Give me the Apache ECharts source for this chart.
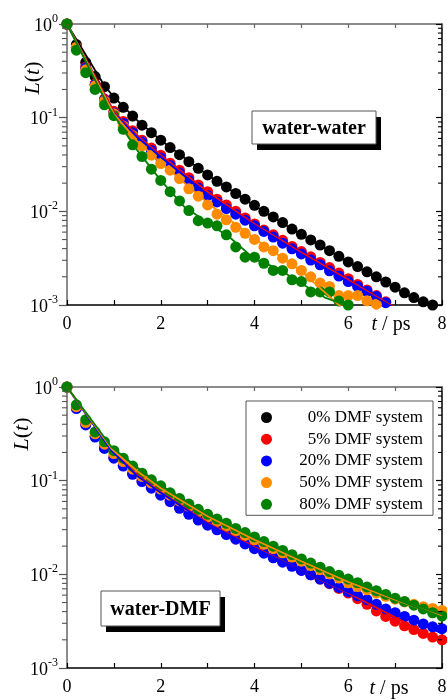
<!DOCTYPE html>
<html>
<head>
<meta charset="utf-8">
<script src="https://cdn.jsdelivr.net/npm/echarts@6.0.0/dist/echarts.min.js"></script>
<style>
  html, body { margin: 0; padding: 0; background: #fff; }
  #chart { width: 447px; height: 699px; }
</style>
</head>
<body>
<div id="chart"></div>
<script>
// Sampling times (ps) shared by all measured curves
const times = [0.0, 0.2, 0.4, 0.6, 0.8, 1.0, 1.2, 1.4, 1.6, 1.8, 2.0, 2.2, 2.4, 2.6, 2.8, 3.0,
  3.2, 3.4, 3.6, 3.8, 4.0, 4.2, 4.4, 4.6, 4.8, 5.0, 5.2, 5.4, 5.6, 5.8, 6.0, 6.2, 6.4, 6.6,
  6.8, 7.0, 7.2, 7.4, 7.6, 7.8, 8.0];

const seriesNames = ['0% DMF system', '5% DMF system', '20% DMF system', '50% DMF system', '80% DMF system'];
const seriesColors = ['#000000', '#ff0000', '#0000ff', '#ff8c00', '#008000'];

// water-water hydrogen-bond correlation L(t)
const wwDMF0 = [1, 0.603, 0.389, 0.275, 0.214, 0.162, 0.129, 0.104, 0.0832, 0.0692, 0.0575,
  0.0479, 0.0403, 0.0339, 0.0288, 0.0245, 0.0209, 0.0182, 0.0155, 0.0135, 0.0116, 0.0100,
  0.00871, 0.00759, 0.00646, 0.00569, 0.00495, 0.00437, 0.00380, 0.00331, 0.00288, 0.00257,
  0.00226, 0.00200, 0.00176, 0.00155, 0.00135, 0.00120, 0.00108, 0.00100, null];
const wwDMF5 = [1, 0.562, 0.347, 0.229, 0.158, 0.117, 0.0912, 0.0724, 0.0575, 0.0473, 0.0398,
  0.0327, 0.0275, 0.0229, 0.0191, 0.0162, 0.0135, 0.0117, 0.0100, 0.00851, 0.00733, 0.00631,
  0.00562, 0.00490, 0.00422, 0.00372, 0.00327, 0.00285, 0.00251, 0.00219, 0.00191, 0.00166,
  0.00145, 0.00126, 0.00108, null, null, null, null, null, null];
const wwDMF20 = [1, 0.555, 0.339, 0.224, 0.155, 0.112, 0.0871, 0.0692, 0.0550, 0.0447, 0.0372,
  0.0309, 0.0257, 0.0214, 0.0178, 0.0148, 0.0126, 0.0107, 0.00933, 0.00804, 0.00700, 0.00610,
  0.00531, 0.00457, 0.00398, 0.00351, 0.00302, 0.00269, 0.00232, 0.00204, 0.00178, 0.00158,
  0.00140, 0.00123, 0.00106, null, null, null, null, null, null];
const wwDMF50 = [1, 0.565, 0.324, 0.219, 0.151, 0.110, 0.0813, 0.0646, 0.0501, 0.0398, 0.0324,
  0.0275, 0.0224, 0.0174, 0.0145, 0.0117, 0.00933, 0.00813, 0.00676, 0.00582, 0.00501, 0.00417,
  0.00380, 0.00316, 0.00275, 0.00234, 0.00200, 0.00172, 0.00158, 0.00126, 0.00126, 0.00126,
  0.00111, 0.00102, null, null, null, null, null, null, null];
const wwDMF80 = [1, 0.525, 0.302, 0.200, 0.137, 0.105, 0.0750, 0.0513, 0.0385, 0.0282, 0.0214,
  0.0162, 0.0129, 0.0102, 0.00794, 0.00750, 0.00700, 0.00562, 0.00417, 0.00324, 0.00324, 0.00279,
  0.00234, 0.00234, 0.00186, 0.00178, 0.00138, 0.00138, 0.00138, 0.00110, 0.00100,
  null, null, null, null, null, null, null, null, null, null];

// water-water fitted curves
const wwFitTime0 = [0, 0.8, 1.0, 1.5, 2, 3, 4, 5, 6, 7, 8];
const wwFit0 = [1, 0.219, 0.166, 0.0933, 0.0575, 0.0245, 0.0115, 0.00562, 0.00288, 0.00151, 0.000794];
const wwFitTime = [0, 1.0, 1.5, 2, 3, 4, 5, 6, 7];
const wwFit5 = [1, 0.117, 0.0646, 0.0398, 0.0162, 0.00733, 0.00363, 0.00186, 0.000933];
const wwFit20 = [1, 0.112, 0.0617, 0.0380, 0.0151, 0.00708, 0.00347, 0.00178, 0.000912];
const wwFitTime50 = [0, 1.0, 1.5, 2, 3, 4, 5, 5.8, 6.2];
const wwFit50 = [1, 0.110, 0.0562, 0.0331, 0.0123, 0.00513, 0.00229, 0.00100, 0.000794];
const wwFitTime80 = [0, 0.9, 1.5, 2, 2.5, 3, 3.5, 4, 4.5, 5, 5.5, 6, 6.5];
const wwFit80 = [1, 0.126, 0.0447, 0.0214, 0.0112, 0.00759, 0.00513, 0.00309, 0.00245, 0.00170,
  0.00120, 0.000977, 0.000794];

// water-DMF hydrogen-bond correlation L(t)
const wdDMF0 = [];
const wdDMF5 = [1, 0.603, 0.403, 0.299, 0.226, 0.178, 0.146, 0.120, 0.100, 0.0851, 0.0716,
  0.0610, 0.0519, 0.0447, 0.0389, 0.0343, 0.0305, 0.0272, 0.0243, 0.0216, 0.0193, 0.0172,
  0.0153, 0.0138, 0.0124, 0.0111, 0.00989, 0.00891, 0.00794, 0.00708, 0.00631, 0.00550,
  0.00479, 0.00407, 0.00355, 0.00316, 0.00282, 0.00257, 0.00234, 0.00214, 0.00200];
const wdDMF20 = [1, 0.589, 0.394, 0.292, 0.221, 0.174, 0.143, 0.117, 0.0977, 0.0832, 0.0700,
  0.0596, 0.0507, 0.0437, 0.0380, 0.0335, 0.0299, 0.0266, 0.0237, 0.0211, 0.0188, 0.0168,
  0.0150, 0.0135, 0.0122, 0.0110, 0.00989, 0.00891, 0.00804, 0.00724, 0.00653, 0.00589,
  0.00537, 0.00479, 0.00427, 0.00389, 0.00355, 0.00324, 0.00295, 0.00275, 0.00263];
const wdDMF50 = [1, 0.617, 0.417, 0.316, 0.245, 0.195, 0.160, 0.133, 0.111, 0.0944, 0.0813,
  0.0700, 0.0610, 0.0531, 0.0468, 0.0412, 0.0367, 0.0327, 0.0292, 0.0260, 0.0234, 0.0209,
  0.0188, 0.0170, 0.0153, 0.0138, 0.0124, 0.0112, 0.0101, 0.00912, 0.00813, 0.00741,
  0.00684, 0.00631, 0.00582, 0.00543, 0.00507, 0.00479, 0.00452, 0.00432, 0.00412];
const wdDMF80 = [1, 0.646, 0.447, 0.331, 0.260, 0.209, 0.174, 0.143, 0.120, 0.102, 0.0881,
  0.0741, 0.0646, 0.0562, 0.0495, 0.0437, 0.0389, 0.0351, 0.0309, 0.0279, 0.0251, 0.0224,
  0.0200, 0.0180, 0.0162, 0.0146, 0.0132, 0.0119, 0.0107, 0.00977, 0.00891, 0.00813,
  0.00733, 0.00668, 0.00610, 0.00556, 0.00513, 0.00468, 0.00427, 0.00389, 0.00359];

// water-DMF fitted curves
const wdFitTime = [0, 0.95, 1.5, 2, 3, 4, 5, 6, 7, 8];
const wdFit5 = [1, 0.214, 0.115, 0.0759, 0.0355, 0.0195, 0.0110, 0.00631, 0.00347, 0.00191];
const wdFit20 = [1, 0.209, 0.112, 0.0741, 0.0347, 0.0191, 0.0110, 0.00646, 0.00389, 0.00234];
const wdFit50 = [1, 0.219, 0.126, 0.0832, 0.0417, 0.0234, 0.0138, 0.00832, 0.00537, 0.00355];
const wdFit80 = [1, 0.229, 0.138, 0.0891, 0.0437, 0.0251, 0.0145, 0.00871, 0.00550, 0.00347];

// Minor tick positions on the logarithmic L(t) axes
const logMinorTicks = [0.002, 0.003, 0.004, 0.005, 0.006, 0.007, 0.008, 0.009,
  0.02, 0.03, 0.04, 0.05, 0.06, 0.07, 0.08, 0.09,
  0.2, 0.3, 0.4, 0.5, 0.6, 0.7, 0.8, 0.9];

const SERIF = '"Liberation Serif", "Times New Roman", serif';

function pairs(xs, ys) {
  const out = [];
  for (let i = 0; i < xs.length; i++) {
    if (ys[i] != null) out.push([xs[i], ys[i]]);
  }
  return out;
}

function xAxes(gridIndex) {
  return [
    {
      type: 'value', gridIndex, position: 'bottom', min: 0, max: 8, interval: 1,
      axisLine: { show: true, onZero: false, lineStyle: { color: '#000', width: 1.5 } },
      axisTick: { show: true, inside: true, length: 5, lineStyle: { color: '#000', width: 1.2 } },
      axisLabel: {
        show: true, margin: 10, fontFamily: SERIF, fontSize: 18, color: '#000',
        formatter: v => (v % 2 === 0 ? String(v) : '')
      },
      splitLine: { show: false }
    },
    {
      type: 'value', gridIndex, position: 'top', min: 0, max: 8, interval: 1,
      axisLine: { show: true, onZero: false, lineStyle: { color: '#666', width: 1.5 } },
      axisTick: { show: true, inside: true, length: 4, lineStyle: { color: '#666', width: 1.2 } },
      axisLabel: { show: false },
      splitLine: { show: false }
    }
  ];
}

function yAxes(gridIndex) {
  return [
    {
      type: 'log', logBase: 10, gridIndex, position: 'left', min: 0.001, max: 1, splitNumber: 3,
      axisLine: { show: true, onZero: false, lineStyle: { color: '#666', width: 1.5 } },
      axisTick: { show: true, inside: false, length: 8, lineStyle: { color: '#555', width: 1.2 } },
      axisLabel: {
        margin: 9,
        formatter: v => '{b|10}{s|' + Math.round(Math.log10(v)) + '}',
        rich: {
          b: { fontFamily: SERIF, fontSize: 18, color: '#000', lineHeight: 22, verticalAlign: 'bottom' },
          s: { fontFamily: SERIF, fontSize: 12, color: '#000', verticalAlign: 'top' }
        }
      },
      splitLine: { show: false }
    },
    {
      type: 'log', logBase: 10, gridIndex, position: 'right', min: 0.001, max: 1, splitNumber: 3,
      axisLine: { show: true, onZero: false, lineStyle: { color: '#000', width: 1.5 } },
      axisTick: { show: true, inside: true, length: 6, lineStyle: { color: '#000', width: 1.2 } },
      axisLabel: { show: false },
      splitLine: { show: false }
    }
  ];
}

function minorTickSeries(xIdx, yIdx) {
  return {
    type: 'custom', xAxisIndex: xIdx, yAxisIndex: yIdx, silent: true, z: 6, clip: false,
    data: logMinorTicks.map(v => [0, v]),
    renderItem: (params, api) => {
      const v = api.value(1);
      const l = api.coord([0, v]);
      const r = api.coord([8, v]);
      return {
        type: 'group',
        children: [
          { type: 'line', shape: { x1: l[0] - 5, y1: l[1], x2: l[0], y2: l[1] },
            style: { stroke: '#555', lineWidth: 1.1 } },
          { type: 'line', shape: { x1: r[0] - 4, y1: r[1], x2: r[0], y2: r[1] },
            style: { stroke: '#000', lineWidth: 1.1 } }
        ]
      };
    }
  };
}

function scatter(i, xIdx, yIdx, values) {
  return {
    type: 'scatter', name: seriesNames[i], xAxisIndex: xIdx, yAxisIndex: yIdx,
    data: pairs(times, values), symbol: 'circle', symbolSize: 11, clip: false, z: 2,
    itemStyle: { color: seriesColors[i], opacity: 1 }, silent: true
  };
}

function fitLine(i, xIdx, yIdx, xs, ys) {
  return {
    type: 'line', name: seriesNames[i] + ' fit', xAxisIndex: xIdx, yAxisIndex: yIdx,
    data: pairs(xs, ys), showSymbol: false, symbol: 'none', smooth: false, clip: true, z: 4,
    lineStyle: { color: seriesColors[i], width: 1.8 }, silent: true
  };
}

const wwPoints = [wwDMF0, wwDMF5, wwDMF20, wwDMF50, wwDMF80];
const wdPoints = [wdDMF0, wdDMF5, wdDMF20, wdDMF50, wdDMF80];

const series = [];
wwPoints.forEach((vals, i) => series.push(scatter(i, 0, 0, vals)));
series.push(fitLine(0, 0, 0, wwFitTime0, wwFit0));
series.push(fitLine(1, 0, 0, wwFitTime, wwFit5));
series.push(fitLine(2, 0, 0, wwFitTime, wwFit20));
series.push(fitLine(3, 0, 0, wwFitTime50, wwFit50));
series.push(fitLine(4, 0, 0, wwFitTime80, wwFit80));
wdPoints.forEach((vals, i) => series.push(scatter(i, 2, 2, vals)));
series.push(fitLine(1, 2, 2, wdFitTime, wdFit5));
series.push(fitLine(2, 2, 2, wdFitTime, wdFit20));
series.push(fitLine(3, 2, 2, wdFitTime, wdFit50));
series.push(fitLine(4, 2, 2, wdFitTime, wdFit80));
series.push(minorTickSeries(0, 0));
series.push(minorTickSeries(2, 2));

const axisTitleRich = {
  i: { fontFamily: SERIF, fontSize: 22, fontStyle: 'italic', color: '#000' },
  n: { fontFamily: SERIF, fontSize: 22, color: '#000' }
};
const unitRich = {
  i: { fontFamily: SERIF, fontSize: 20, fontStyle: 'italic', color: '#000' },
  n: { fontFamily: SERIF, fontSize: 20, color: '#000' }
};

function labelBox(x, y, w, h, text) {
  return [
    { type: 'rect', shape: { x: x + 5, y: y + 6, width: w, height: h }, style: { fill: '#000' }, z: 20 },
    { type: 'rect', shape: { x: x, y: y, width: w, height: h }, style: { fill: '#fff', stroke: '#555', lineWidth: 1 }, z: 21 },
    { type: 'text', x: x + w / 2, y: y + h / 2 + 1, z: 22,
      style: { text: text, fontFamily: SERIF, fontSize: 20, fontWeight: 'bold', fill: '#000',
        align: 'center', verticalAlign: 'middle' } }
  ];
}

const option = {
  backgroundColor: '#fff',
  animation: false,
  grid: [
    { left: 67, top: 24, width: 375, height: 281, containLabel: false, outerBoundsMode: 'none' },
    { left: 67, top: 387, width: 375, height: 281, containLabel: false, outerBoundsMode: 'none' }
  ],
  xAxis: [...xAxes(0), ...xAxes(1)],
  yAxis: [...yAxes(0), ...yAxes(1)],
  legend: {
    orient: 'vertical', left: 246, top: 401, selectedMode: false,
    data: seriesNames.map(n => ({ name: n, icon: 'circle' })),
    itemWidth: 11, itemHeight: 11, itemGap: 4.7,
    padding: [8, 10, 2.5, 15],
    borderColor: '#555', borderWidth: 1, backgroundColor: '#fff',
    formatter: n => '{a|' + n + '}',
    textStyle: {
      rich: { a: { fontFamily: SERIF, fontSize: 17, color: '#000', width: 146, align: 'right', lineHeight: 20 } }
    }
  },
  graphic: [
    ...labelBox(252, 111, 124, 33, 'water-water'),
    ...labelBox(101, 591, 119, 35, 'water-DMF'),
    { type: 'text', x: 33, y: 78, rotation: Math.PI / 2,
      style: { text: '{i|L}{n|(}{i|t}{n|)}', rich: axisTitleRich, align: 'center', verticalAlign: 'middle' } },
    { type: 'text', x: 22, y: 434, rotation: Math.PI / 2,
      style: { text: '{i|L}{n|(}{i|t}{n|)}', rich: axisTitleRich, align: 'center', verticalAlign: 'middle' } },
    { type: 'text', x: 391, y: 325,
      style: { text: '{i|t}{n| / ps}', rich: unitRich, align: 'center', verticalAlign: 'middle' } },
    { type: 'text', x: 389, y: 689,
      style: { text: '{i|t}{n| / ps}', rich: unitRich, align: 'center', verticalAlign: 'middle' } }
  ],
  series: series
};

const chart = echarts.init(document.getElementById('chart'), null, { renderer: 'canvas' });
chart.setOption(option);
</script>
</body>
</html>
